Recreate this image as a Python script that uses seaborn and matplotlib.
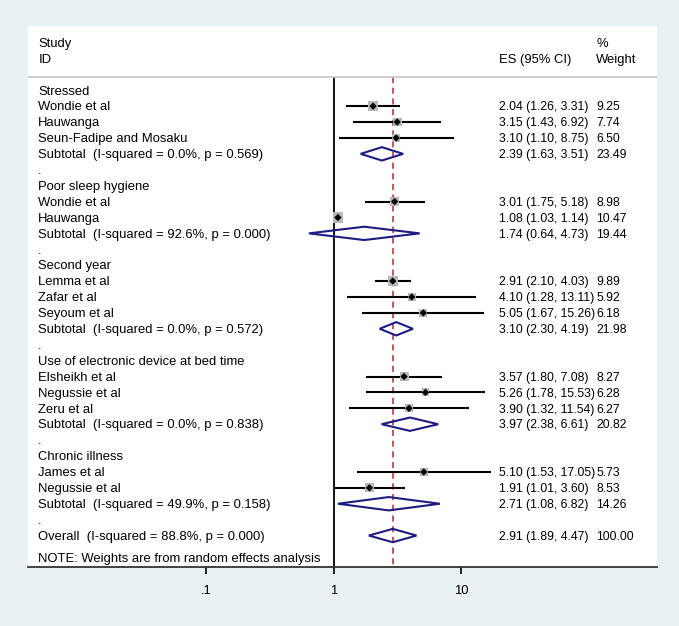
import numpy as np
import pandas as pd
import matplotlib.pyplot as plt
import matplotlib.transforms as mtransforms
import seaborn as sns

groups = ["Stressed", "Poor sleep hygiene", "Second year",
          "Use of electronic device at bed time", "Chronic illness"]
studies = [["Wondie et al", "Hauwanga", "Seun-Fadipe and Mosaku"],
           ["Wondie et al", "Hauwanga"],
           ["Lemma et al", "Zafar et al", "Seyoum et al"],
           ["Elsheikh et al", "Negussie et al", "Zeru et al"],
           ["James et al", "Negussie et al"]]
es = [[2.04, 3.15, 3.10], [3.01, 1.08], [2.91, 4.10, 5.05], [3.57, 5.26, 3.90], [5.10, 1.91]]
lo = [[1.26, 1.43, 1.10], [1.75, 1.03], [2.10, 1.28, 1.67], [1.80, 1.78, 1.32], [1.53, 1.01]]
hi = [[3.31, 6.92, 8.75], [5.18, 1.14], [4.03, 13.11, 15.26], [7.08, 15.53, 11.54], [17.05, 3.60]]
wt = [[9.25, 7.74, 6.50], [8.98, 10.47], [9.89, 5.92, 6.18], [8.27, 6.28, 6.27], [5.73, 8.53]]

sub_es = [2.39, 1.74, 3.10, 3.97, 2.71]
sub_lo = [1.63, 0.64, 2.30, 2.38, 1.08]
sub_hi = [3.51, 4.73, 4.19, 6.61, 6.82]
sub_wt = [23.49, 19.44, 21.98, 20.82, 14.26]
sub_i2 = [0.0, 92.6, 0.0, 0.0, 49.9]
sub_p = [0.569, 0.000, 0.572, 0.838, 0.158]

overall_es, overall_lo, overall_hi, overall_wt = 2.91, 1.89, 4.47, 100.00
overall_i2, overall_p = 88.8, 0.000

x_ticks = [0.1, 1, 10]
x_tick_labels = [".1", "1", "10"]

# build the rows top to bottom
labels, study_rows, diamond_rows = [], [], []
row = 0
for g in range(len(groups)):
    labels.append((row, groups[g], None, None))
    row += 1
    for s in range(len(studies[g])):
        labels.append((row, studies[g][s],
                       f"{es[g][s]:.2f} ({lo[g][s]:.2f}, {hi[g][s]:.2f})", f"{wt[g][s]:.2f}"))
        study_rows.append(dict(y=row, es=es[g][s], lo=lo[g][s], hi=hi[g][s], wt=wt[g][s]))
        row += 1
    labels.append((row, f"Subtotal  (I-squared = {sub_i2[g]:.1f}%, p = {sub_p[g]:.3f})",
                   f"{sub_es[g]:.2f} ({sub_lo[g]:.2f}, {sub_hi[g]:.2f})", f"{sub_wt[g]:.2f}"))
    diamond_rows.append((row, sub_es[g], sub_lo[g], sub_hi[g]))
    row += 1
    labels.append((row, ".", None, None))
    row += 1
labels.append((row, f"Overall  (I-squared = {overall_i2:.1f}%, p = {overall_p:.3f})",
               f"{overall_es:.2f} ({overall_lo:.2f}, {overall_hi:.2f})", f"{overall_wt:.2f}"))
diamond_rows.append((row, overall_es, overall_lo, overall_hi))
note_row = row + 1.45
df = pd.DataFrame(study_rows)

plt.rcParams['font.family'] = ['Liberation Sans', 'DejaVu Sans']
fig = plt.figure(figsize=(6.79, 6.26), dpi=100, facecolor="#e8f1f3")
ax = fig.add_axes([0.0417, 0.0947, 0.9263, 0.8643])
ax.set_facecolor("white")
ax.set_xscale("log")
ax.set_xlim(10 ** -2.395, 10 ** 2.539)
top, bottom, sep = -4.06, 29.96, -0.82
ax.set_ylim(bottom, top)

# reference lines
ax.vlines(1, sep, bottom, color="black", lw=1.3, zorder=2)
ax.vlines(overall_es, sep, bottom, color="#b8282e", lw=1.1, linestyles=(0, (4, 3)), zorder=2)
ax.axhline(sep, color="#c8c8c8", lw=1.2)

# study markers
ax.hlines(df["y"], df["lo"], df["hi"], color="black", lw=1.5, zorder=3)
sns.scatterplot(data=df, x="es", y="y", size="wt", sizes=(26, 57), size_norm=(5, 11),
                marker="s", color="#b8b8b8", edgecolor="none", legend=False, ax=ax, zorder=3)
sns.scatterplot(data=df, x="es", y="y", marker="D", s=14, color="black",
                edgecolor="none", legend=False, ax=ax, zorder=4)

# pooled diamonds
for y, e, l, h in diamond_rows:
    ax.fill([l, e, h, e, l], [y, y - 0.42, y, y + 0.42, y], facecolor="none",
            edgecolor="#1c1c82", lw=1.5, zorder=4)

# text columns
tr = mtransforms.blended_transform_factory(ax.transAxes, ax.transData)
fs = 9.4
fs_es = 8.8
ax.text(0.0159, -2.9, "Study", transform=tr, fontsize=fs, va="center")
ax.text(0.0159, -1.9, "ID", transform=tr, fontsize=fs, va="center")
ax.text(0.749, -1.9, "ES (95% CI)", transform=tr, fontsize=fs, va="center")
ax.text(0.903, -2.9, "%", transform=tr, fontsize=fs, va="center")
ax.text(0.903, -1.9, "Weight", transform=tr, fontsize=fs, va="center")
for y, name, est, w in labels:
    ax.text(0.0159, y + 0.08, name, transform=tr, fontsize=fs, va="center")
    if est is not None:
        ax.text(0.749, y + 0.08, est, transform=tr, fontsize=fs_es, va="center")
        ax.text(0.903, y + 0.08, w, transform=tr, fontsize=fs_es, va="center")
ax.text(0.0159, note_row, "NOTE: Weights are from random effects analysis",
        transform=tr, fontsize=fs, va="center")

# axes styling
for side in ["top", "left", "right"]:
    ax.spines[side].set_visible(False)
ax.spines["bottom"].set_color("#333333")
ax.spines["bottom"].set_linewidth(1.3)
ax.set_yticks([])
ax.set_xticks(x_ticks)
ax.set_xticklabels(x_tick_labels)
ax.minorticks_off()
ax.tick_params(axis="x", direction="out", length=5, width=1.2, pad=8, labelsize=fs)
ax.set_xlabel("")
ax.set_ylabel("")

fig.savefig("out.png", dpi=100, facecolor=fig.get_facecolor())
